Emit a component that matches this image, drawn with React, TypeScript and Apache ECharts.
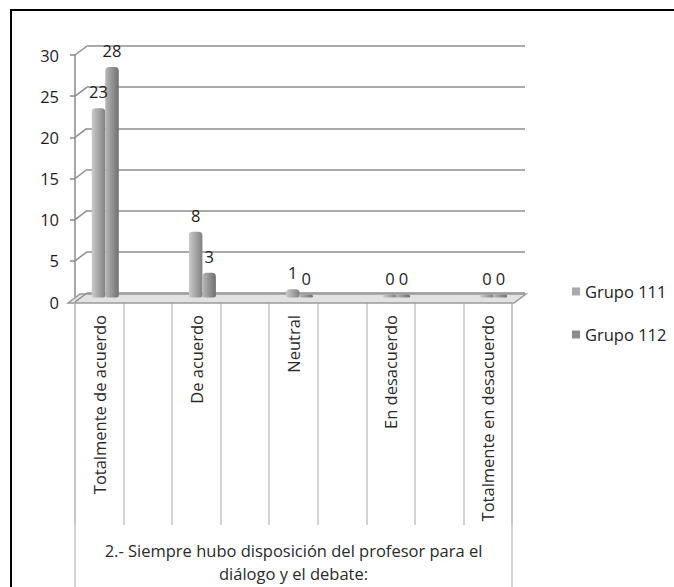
import React, { useEffect, useRef } from "react";
import * as echarts from "echarts";

const categories = ["Totalmente de acuerdo", "De acuerdo", "Neutral", "En desacuerdo", "Totalmente en desacuerdo"];
const grupo111 = [23, 8, 1, 0, 0];
const grupo112 = [28, 3, 0, 0, 0];
const yTicks = [0, 5, 10, 15, 20, 25, 30];
const groupTitle = "2.- Siempre hubo disposición del profesor para el\ndiálogo y el debate:";
const seriesNames = ["Grupo 111", "Grupo 112"];

const FONT = "Open Sans";
const FS = 16.5;

// interleave blank slots between categories (as in the original sheet)
const slotCats = categories.flatMap((c, i) => (i < categories.length - 1 ? [c, " ".repeat(i + 1)] : [c]));
const slotVals = (arr: number[]) => arr.flatMap((v, i) => (i < arr.length - 1 ? [v, "-"] : [v]));

const barGrad = (a: string, b: string, c: string) =>
  new echarts.graphic.LinearGradient(0, 0, 1, 0, [
    { offset: 0, color: a },
    { offset: 0.45, color: b },
    { offset: 1, color: c },
  ]);

export default function App() {
  const ref = useRef<HTMLDivElement>(null);
  useEffect(() => {
    if (!ref.current) return;
    const chart = echarts.init(ref.current, undefined, { renderer: "svg" });
    const front = { left: 75, top: 55, width: 437, height: 247 };
    const back = { left: 87, top: 46, width: 438, height: 247 };
    const mid = { left: 81, top: 50.5, width: 437, height: 247 };
    const hiddenCat = (gridIndex: number) => ({
      type: "category",
      gridIndex,
      data: slotCats,
      show: false,
    });
    const labelStyle = { show: true, position: "top", distance: 8, fontSize: FS, color: "#1e1e1e", fontFamily: FONT };
    const option: any = {
      animation: false,
      backgroundColor: "#fff",
      textStyle: { fontFamily: FONT },
      grid: [front, back, mid],
      legend: {
        orient: "vertical",
        left: 567,
        top: 278,
        itemWidth: 8,
        itemHeight: 8,
        itemGap: 26,
        icon: "rect",
        textStyle: { fontSize: FS, color: "#1e1e1e", fontFamily: FONT },
        data: [
          { name: seriesNames[0], itemStyle: { color: "#a9a9a9" } },
          { name: seriesNames[1], itemStyle: { color: "#8d8d8d" } },
        ],
      },
      xAxis: [
        {
          type: "category",
          gridIndex: 0,
          data: slotCats,
          axisLine: { show: false },
          axisTick: { show: true, length: 223, lineStyle: { color: "#c4c4c4", width: 1.5 } },
          axisLabel: {
            rotate: 90,
            interval: 0,
            margin: 13,
            fontSize: FS,
            color: "#2a2a2a",
            fontFamily: FONT,
          },
        },
        {
          type: "category",
          gridIndex: 0,
          position: "bottom",
          data: [groupTitle],
          axisLine: { show: false },
          axisTick: { show: true, length: 300, lineStyle: { color: "#c4c4c4", width: 1.5 } },
          axisLabel: {
            margin: 237,
            fontSize: FS,
            lineHeight: 23,
            color: "#2a2a2a",
            fontFamily: FONT,
            align: "center",
          },
        },
        hiddenCat(1),
        hiddenCat(2),
      ],
      yAxis: [
        {
          type: "value",
          gridIndex: 0,
          min: 0,
          max: 30,
          interval: 5,
          axisLine: { show: true, lineStyle: { color: "#8a8a8a", width: 1.5 } },
          axisTick: { show: true, length: 5, lineStyle: { color: "#8a8a8a", width: 1.5 } },
          splitLine: { show: false },
          axisLabel: { fontSize: FS, color: "#1e1e1e", margin: 16, fontFamily: FONT },
        },
        {
          type: "value",
          gridIndex: 1,
          min: 0,
          max: 30,
          interval: 5,
          axisLine: { show: false },
          axisTick: { show: false },
          axisLabel: { show: false },
          splitLine: { show: true, lineStyle: { color: "#8e8e8e", width: 1.5 } },
        },
        {
          type: "value",
          gridIndex: 2,
          min: 0,
          max: 30,
          interval: 5,
          show: false,
          splitLine: { show: false },
        },
      ],
      series: [
        {
          type: "custom",
          xAxisIndex: 0,
          yAxisIndex: 0,
          z: 1,
          silent: true,
          clip: false,
          data: yTicks.map((v) => [0, v]),
          renderItem: (params: any, api: any) => {
            const v = api.value(1);
            const cs = params.coordSys;
            const y = api.coord([0, v])[1];
            const children: any[] = [
              {
                type: "line",
                shape: { x1: cs.x, y1: y, x2: cs.x + 12, y2: y - 9 },
                style: { stroke: "#8e8e8e", lineWidth: 1.5 },
              },
            ];
            if (v === 0) {
              children.unshift({
                type: "polygon",
                shape: {
                  points: [
                    [cs.x - 7, y + 1],
                    [cs.x + cs.width + 2, y + 1],
                    [cs.x + cs.width + 14, y - 8],
                    [cs.x + 5, y - 8],
                  ],
                },
                style: { fill: "#e2e2e2", stroke: "#9a9a9a", lineWidth: 1.5 },
              });
            }
            return { type: "group", children };
          },
        },
        {
          name: seriesNames[0],
          type: "bar",
          xAxisIndex: 3,
          yAxisIndex: 2,
          z: 3,
          barWidth: 13.5,
          barGap: "0%",
          barMinHeight: 3,
          data: slotVals(grupo111),
          itemStyle: {
            color: barGrad("#cacaca", "#aaaaaa", "#808080"),
            borderRadius: [4, 4, 2, 2],
          },
          label: labelStyle,
        },
        {
          name: seriesNames[1],
          type: "bar",
          xAxisIndex: 3,
          yAxisIndex: 2,
          z: 3,
          barWidth: 13.5,
          barGap: "0%",
          barMinHeight: 3,
          data: slotVals(grupo112),
          itemStyle: {
            color: barGrad("#b8b8b8", "#979797", "#707070"),
            borderRadius: [4, 4, 2, 2],
          },
          label: labelStyle,
        },
      ],
      graphic: [
        {
          type: "rect",
          z: 100,
          silent: true,
          shape: { x: 11, y: 10, width: 700, height: 620 },
          style: { fill: "none", stroke: "#000", lineWidth: 2 },
        },
      ],
    };
    chart.setOption(option);
    return () => chart.dispose();
  }, []);
  return (
    <div
      ref={ref}
      style={{ position: "fixed", left: 0, top: 0, width: 674, height: 587, background: "#fff" }}
    />
  );
}
